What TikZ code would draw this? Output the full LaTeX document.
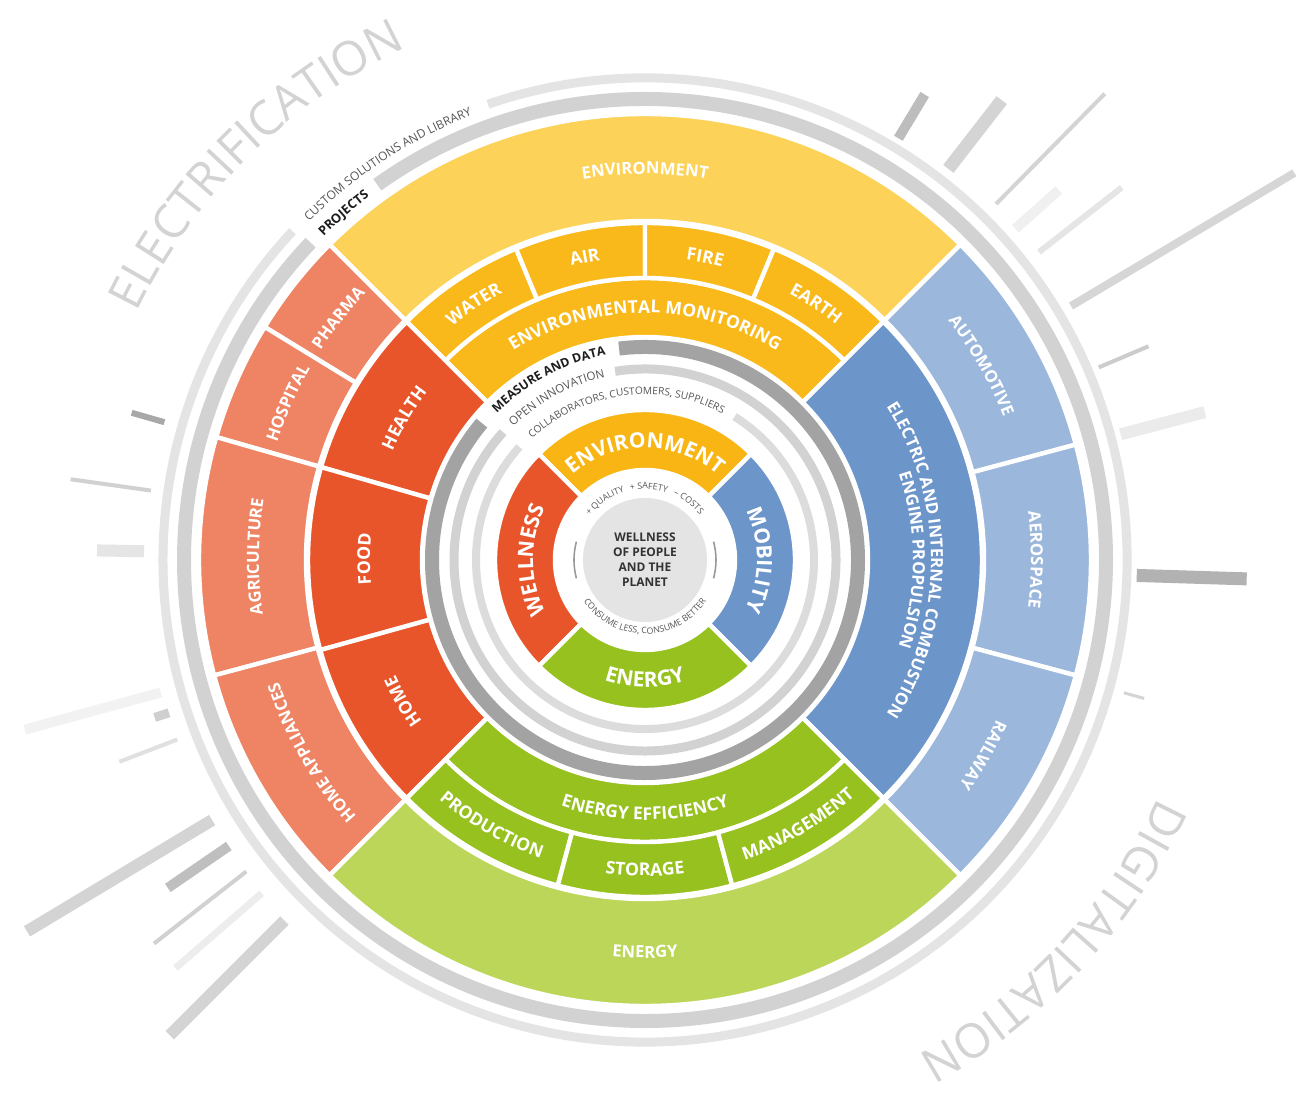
\documentclass[tikz,border=0pt]{standalone}
\usepackage{fontspec}
\setmainfont{Open Sans}
\usepackage{tikz}
\usetikzlibrary{decorations.text}
\definecolor{envdeep} {HTML}{F8B514}
\definecolor{envmid}  {HTML}{FAB91A}
\definecolor{envpale} {HTML}{FCD259}
\definecolor{welldeep}{HTML}{E8552B}
\definecolor{wellpale}{HTML}{EE8463}
\definecolor{mobdeep} {HTML}{6C95CA}
\definecolor{mobpale} {HTML}{9BB8DC}
\definecolor{engdeep} {HTML}{97C11F}
\definecolor{engpale} {HTML}{BCD65A}
\definecolor{ringdark}{HTML}{A3A3A3}
\definecolor{ringmid} {HTML}{D2D2D2}
\definecolor{ringpale}{HTML}{DCDCDC}
\definecolor{ringfar} {HTML}{E4E4E4}
\definecolor{globe}   {HTML}{E4E4E4}
\definecolor{inktext} {HTML}{1E1E1E}
\definecolor{softtext}{HTML}{555555}
\definecolor{megatext}{HTML}{D3D3D3}
\newcommand\corefont{\bfseries\fontsize{12}{14}\selectfont}
\newcommand\midfont{\bfseries\fontsize{10}{12}\selectfont}
\newcommand\rimfont{\bfseries\fontsize{9.5}{11}\selectfont}
\newcommand\ringfont{\fontsize{6.6}{8}\selectfont}
\newcommand\hintfont{\fontsize{5}{6}\selectfont}
\newcommand\megafont{\fontsize{27}{30}\selectfont}

\begin{document}
\begin{tikzpicture}[
  x=0.02cm, y=0.02cm,
  seg/.style={fill=#1, draw=white, line width=2.5pt},
  lbl/.style n args={3}{decorate,
    decoration={text along path, text align=center, text color=#1, text={|#2|#3}}},
]
  \useasboundingbox (-645,-534) rectangle (664,560);
  \fill[white] (-645,-534) rectangle (664,560);

  % Rays outside the wheel: angle / inner r / outer r / width (px) / grey.
  \foreach \a/\ri/\ro/\w/\g in {59/492/543/10/26, 52.2/495/582/13/17, 45.4/500/655/4/17,
      41.8/497/555/10/6, 38/500/605/6/10, 30.8/496/756/8/16, 23/493/547/4/20,
      14.8/492/579/12/8, -1.8/492/602/13/30, -15.5/497/518/3/17,
      164/500/534/6/34, 172/499/580/4/18, 179/501/548/12/10, 195.3/502/643/10/5,
      197.8/500/515/9/19, 201/501/563/4/12, 211/505/721/12/17, 214.5/505/579/10/25,
      218/506/623/4/18, 221/508/622/7/7, 225/510/672/12/17}
    { \draw[black!\g, line width=\w*0.2mm] (\a:\ri) -- (\a:\ro); }

  % Grey rings, each open where its caption sits.
  \foreach \r/\w/\s/\e/\c in {482/9/109/-223/ringfar, 461/14/125.5/-223.5/ringmid,
      213/14/97/-220/ringdark, 191/9/99/-222/ringmid, 169/8/58/-222/ringpale}
    { \draw[\c, line width=\w*0.2mm] (\s:\r) arc[start angle=\s, end angle=\e, radius=\r]; }

  % Sectors: start / end angle / inner r / outer r / colour.
  \foreach \a/\b/\ri/\ro/\c in {
      45/135/90/150/envdeep, -45/45/90/150/mobdeep, 135/225/90/150/welldeep, 225/315/90/150/engdeep,
      45/135/223/282/envmid, 112.5/135/282/337/envmid, 90/112.5/282/337/envmid,
      67.5/90/282/337/envmid, 45/67.5/282/337/envmid,
      135/164/223/337/welldeep, 164/195.5/223/337/welldeep, 195.5/225/223/337/welldeep,
      -45/45/223/337/mobdeep,
      225/315/223/282/engdeep, 225/255/282/337/engdeep, 255/285/282/337/engdeep, 285/315/282/337/engdeep,
      45/135/339/446/envpale,
      135/148.5/339/446/wellpale, 148.5/164/339/446/wellpale, 164/195/339/446/wellpale, 195/225/339/446/wellpale,
      15/45/339/446/mobpale, -15/15/339/446/mobpale, -45/-15/339/446/mobpale,
      225/315/339/446/engpale}
    { \filldraw[seg=\c] (\a:\ri) arc[start angle=\a, end angle=\b, radius=\ri]
        -- (\b:\ro) arc[start angle=\b, end angle=\a, radius=\ro] -- cycle; }

  % Core: the globe and its captions.
  \fill[globe] (0,0) circle[radius=62];
  \draw[black!40, line width=0.9pt] (165:71) arc[start angle=165, end angle=195, radius=71];
  \draw[black!40, line width=0.9pt] (-15:71) arc[start angle=-15, end angle=15, radius=71];
  \node[font=\bfseries\fontsize{6.8}{8.6}\selectfont, text=black!80, align=center] (core) at (0,0)
    {WELLNESS\\OF PEOPLE\\AND THE\\PLANET};
  \path[lbl={softtext}{\hintfont}{+ QUALITY}] (144:71) arc[start angle=144, end angle=104, radius=71];
  \path[lbl={softtext}{\hintfont}{+ SAFETY}] (107:71) arc[start angle=107, end angle=67, radius=71];
  \path[lbl={softtext}{\hintfont}{– COSTS}] (73:71) arc[start angle=73, end angle=33, radius=71];
  \path[lbl={softtext}{\hintfont}{CONSUME LESS, CONSUME BETTER}] (205:74) arc[start angle=205, end angle=335, radius=74];

  % Inner ring labels.
  \path[lbl={white}{\corefont}{ENVIRONMENT}] (135:112) arc[start angle=135, end angle=45, radius=112];
  \path[lbl={white}{\corefont}{MOBILITY}] (45:112) arc[start angle=45, end angle=-45, radius=112];
  \path[lbl={white}{\corefont}{WELLNESS}] (225:112) arc[start angle=225, end angle=135, radius=112];
  \path[lbl={white}{\corefont}{ENERGY}] (225:127) arc[start angle=225, end angle=315, radius=127];

  % Ring captions.
  \path[lbl={inktext}{\bfseries\fontsize{7}{8}\selectfont}{MEASURE AND DATA}] (139:208.5) arc[start angle=139, end angle=97, radius=208.5];
  \path[lbl={softtext}{\ringfont}{OPEN INNOVATION}] (137:187) arc[start angle=137, end angle=100, radius=187];
  \path[lbl={softtext}{\fontsize{5.8}{7}\selectfont}{COLLABORATORS, CUSTOMERS, SUPPLIERS}] (135:165.5) arc[start angle=135, end angle=60, radius=165.5];
  \path[lbl={inktext}{\bfseries\fontsize{7.3}{8}\selectfont}{PROJECTS}] (136:456) arc[start angle=136, end angle=126, radius=456];
  \path[lbl={softtext}{\fontsize{6.8}{8}\selectfont}{CUSTOM SOLUTIONS AND LIBRARY}] (136.5:477) arc[start angle=136.5, end angle=109.5, radius=477];

  % Middle ring labels.
  \path[lbl={white}{\midfont}{ENVIRONMENTAL MONITORING}] (135:247) arc[start angle=135, end angle=45, radius=247];
  \path[lbl={white}{\midfont}{WATER}] (135:303) arc[start angle=135, end angle=112.5, radius=303];
  \path[lbl={white}{\midfont}{AIR}] (112.5:303) arc[start angle=112.5, end angle=90, radius=303];
  \path[lbl={white}{\midfont}{FIRE}] (90:303) arc[start angle=90, end angle=67.5, radius=303];
  \path[lbl={white}{\midfont}{EARTH}] (67.5:303) arc[start angle=67.5, end angle=45, radius=303];
  \path[lbl={white}{\midfont}{HEALTH}] (164:275) arc[start angle=164, end angle=135, radius=275];
  \path[lbl={white}{\midfont}{FOOD}] (195.5:275) arc[start angle=195.5, end angle=164, radius=275];
  \path[lbl={white}{\midfont}{HOME}] (225:275) arc[start angle=225, end angle=195.5, radius=275];
  \path[lbl={white}{\rimfont}{ELECTRIC AND INTERNAL COMBUSTION}] (45:286) arc[start angle=45, end angle=-45, radius=286];
  \path[lbl={white}{\rimfont}{ENGINE PROPULSION}] (45:268) arc[start angle=45, end angle=-45, radius=268];
  \path[lbl={white}{\midfont}{ENERGY EFFICIENCY}] (225:260) arc[start angle=225, end angle=315, radius=260];
  \path[lbl={white}{\midfont}{PRODUCTION}] (225:316) arc[start angle=225, end angle=255, radius=316];
  \path[lbl={white}{\midfont}{STORAGE}] (255:316) arc[start angle=255, end angle=285, radius=316];
  \path[lbl={white}{\midfont}{MANAGEMENT}] (285:316) arc[start angle=285, end angle=315, radius=316];

  % Outer ring labels.
  \path[lbl={white}{\rimfont}{ENVIRONMENT}] (135:386) arc[start angle=135, end angle=45, radius=386];
  \path[lbl={white}{\rimfont}{PHARMA}] (148.5:386) arc[start angle=148.5, end angle=135, radius=386];
  \path[lbl={white}{\rimfont}{HOSPITAL}] (164:386) arc[start angle=164, end angle=148.5, radius=386];
  \path[lbl={white}{\rimfont}{AGRICULTURE}] (195:386) arc[start angle=195, end angle=164, radius=386];
  \path[lbl={white}{\rimfont}{HOME APPLIANCES}] (225:386) arc[start angle=225, end angle=195, radius=386];
  \path[lbl={white}{\rimfont}{AUTOMOTIVE}] (45:386) arc[start angle=45, end angle=15, radius=386];
  \path[lbl={white}{\rimfont}{AEROSPACE}] (15:386) arc[start angle=15, end angle=-15, radius=386];
  \path[lbl={white}{\rimfont}{RAILWAY}] (-15:386) arc[start angle=-15, end angle=-45, radius=386];
  \path[lbl={white}{\rimfont}{ENERGY}] (225:398) arc[start angle=225, end angle=315, radius=398];

  % Two megatrends round the outside.
  \path[lbl={megatext}{\megafont}{ELECTRIFICATION}] (158:565) arc[start angle=158, end angle=111, radius=565];
  \path[lbl={megatext}{\megafont}{DIGITALIZATION}] (-19:565) arc[start angle=-19, end angle=-67, radius=565];
\end{tikzpicture}
\end{document}
